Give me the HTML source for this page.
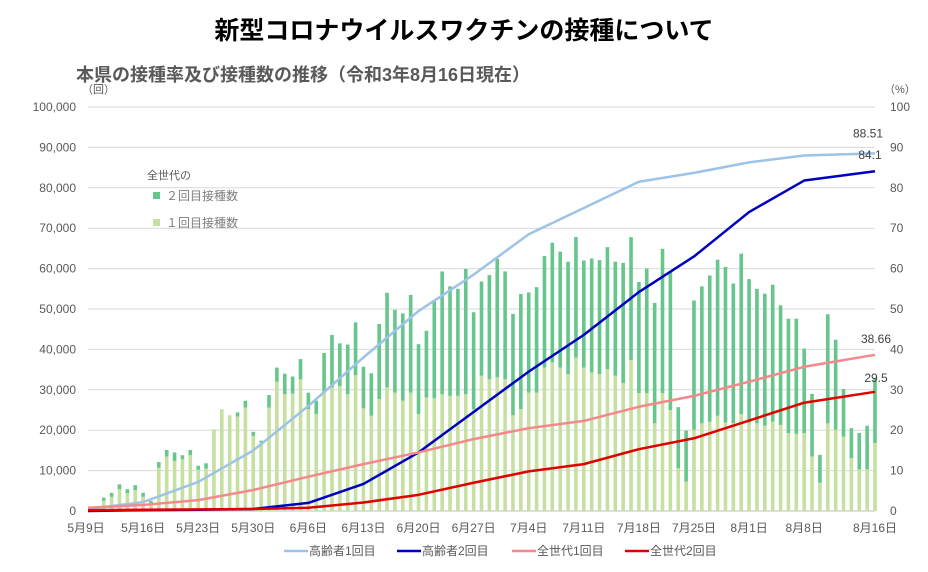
<!DOCTYPE html>
<html><head><meta charset="utf-8"><style>
body{margin:0;background:#fff;}
svg text{font-family:"Liberation Sans","Noto Sans CJK JP",sans-serif;}
</style></head><body>
<svg id="c" width="928" height="567" xmlns="http://www.w3.org/2000/svg">
<text x="464" y="39" text-anchor="middle" font-size="25" font-weight="bold" fill="#000">新型コロナウイルスワクチンの接種について</text>
<text x="76" y="81" font-size="18" font-weight="bold" fill="#595959">本県の接種率及び接種数の推移（令和3年8月16日現在）</text>
<text x="82" y="93" font-size="11" fill="#595959">（回）</text>
<text x="884" y="93" font-size="11" fill="#595959">（%）</text>
<g id="grid"></g><g id="bars"></g><g id="lines"></g><g id="axes"></g>
<text x="147" y="179" font-size="11" fill="#595959">全世代の</text>
<rect x="153" y="192" width="7" height="7" fill="#66c68c"/>
<text x="166" y="200" font-size="12" fill="#808080">２回目接種数</text>
<rect x="153" y="219" width="7" height="7" fill="#c5e0a0"/>
<text x="166" y="227" font-size="12" fill="#808080">１回目接種数</text>
<g id="legend"></g>
</svg>
<script>
const barDays=[2,3,4,5,6,7,8,9,10,11,12,13,14,15,16,17,18,19,20,21,22,23,24,25,26,27,28,29,30,31,32,33,34,35,36,37,38,39,40,41,42,43,44,45,46,47,48,49,50,51,52,53,54,55,56,57,58,59,60,61,62,63,64,65,66,67,68,69,70,71,72,73,74,75,76,77,78,79,80,81,82,83,84,85,86,87,88,89,90,91,92,93,94,95,96,97,98,99,100];
const firstDose=[2500,3500,5400,4400,5200,3500,2000,10700,13500,12400,12800,13800,10200,10500,20200,25200,23700,23400,25600,18600,17000,25600,32000,28900,29100,32600,25200,24000,29300,30600,30900,28900,33600,25400,23600,27700,30600,29300,27300,29300,24000,28100,27900,28900,28500,28500,28900,25200,33500,32600,33100,32600,23700,25200,29300,29300,35500,36800,35500,33900,38000,35500,34300,33900,35100,33500,31700,37400,29200,29200,21700,29200,25000,10600,7300,20100,21700,22100,23600,21900,21700,24000,21900,21700,21100,22100,21300,19300,19100,19300,13500,7000,21700,20100,18400,13100,10300,10300,16800];
const totalDose=[3300,4500,6600,5400,6400,4500,2500,12100,15100,14500,13800,15100,11200,11800,20200,25200,23700,24400,27300,19600,17400,28700,35500,34000,33300,37600,29300,27300,39100,43600,41500,41200,46700,35700,34100,46300,54000,49800,48900,53500,41300,44600,52100,59300,55600,55000,59900,49200,56800,58400,62400,59300,48800,53700,54100,55400,63100,66400,64200,61700,67800,62000,62500,62100,65300,61700,61400,67800,56700,60000,51500,64900,59300,25700,19900,52100,55600,58300,62200,60400,56300,63700,57400,55000,53800,56000,50900,47600,47600,40200,29000,13900,48700,42400,30200,20500,19300,21100,32900];
const lineDays=[0,7,14,21,28,35,42,49,56,63,70,77,84,91,100];
const elderly1=[0.5,2.2,7.2,15,26,38,49.5,58.5,68.5,75,81.5,83.7,86.3,88,88.51];
const elderly2=[0,0.2,0.3,0.5,2,6.7,14.5,24.5,34.5,43.6,54.2,63,74,81.8,84.1];
const all1=[0.8,1.5,2.7,5.2,8.5,11.6,14.5,17.8,20.5,22.3,25.8,28.5,32,35.7,38.66];
const all2=[0.2,0.3,0.4,0.5,0.8,2.1,4,7,9.8,11.6,15.3,18,22.4,26.8,29.5];
const leftTicks=[0,10000,20000,30000,40000,50000,60000,70000,80000,90000,100000];
const rightTicks=[0,10,20,30,40,50,60,70,80,90,100];
const dateTickDays=[0,7,14,21,28,35,42,49,56,63,70,77,84,91,100];
const dateLabels=["5月9日","5月16日","5月23日","5月30日","6月6日","6月13日","6月20日","6月27日","7月4日","7月11日","7月18日","7月25日","8月1日","8月8日","8月16日"];
const endLabels=["88.51","84.1","38.66","29.5"];

const NS="http://www.w3.org/2000/svg";
const X0=88,DX=7.87,Y0=511,H=404;
const x=d=>X0+d*DX;
const yL=v=>Y0-v/100000*H;
const yR=v=>Y0-v/100*H;
function mk(tag,attrs,parent,text){const e=document.createElementNS(NS,tag);for(const k in attrs)e.setAttribute(k,attrs[k]);if(text!==undefined)e.textContent=text;document.getElementById(parent).appendChild(e);return e;}

leftTicks.forEach((t,i)=>{
  const g=mk('line',{x1:X0,x2:875,y1:yL(t),y2:yL(t),stroke:i==0?'#bfbfbf':'#d9d9d9','stroke-width':1},'grid');
  
  
  const l=mk('text',{x:76,y:yL(t)+4,'text-anchor':'end','font-size':12,fill:'#595959'},'axes',t.toLocaleString('en-US'));
  
  
});
rightTicks.forEach(t=>{
  const l=mk('text',{x:890,y:yR(t)+4,'font-size':12,fill:'#595959'},'axes',String(t));
  
  
});
dateTickDays.forEach((d,i)=>{
  const l=mk('text',{x:x(d)-(i==0?2:0),y:532,'text-anchor':'middle','font-size':12,fill:'#595959'},'axes',dateLabels[i]);
  
  
});
barDays.forEach((d,i)=>{
  const bw=3.6;
  const b1=mk('rect',{x:x(d)-bw/2,y:yL(firstDose[i]),width:bw,height:Y0-yL(firstDose[i]),fill:'#c5e0a0'},'bars');
  
  
  const b2=mk('rect',{x:x(d)-bw/2,y:yL(totalDose[i]),width:bw,height:yL(firstDose[i])-yL(totalDose[i]),fill:'#66c68c'},'bars');
  
  
});
const series=[[elderly1,'#9dc3e6','line-elderly-first',2.5],[elderly2,'#0000c0','line-elderly-second',2.5],[all1,'#f4888a','line-all-first',2.5],[all2,'#e00000','line-all-second',2.5]];
series.forEach(([vals,col,name,w])=>{
  const p=mk('polyline',{points:vals.map((v,i)=>x(lineDays[i])+','+yR(v)).join(' '),fill:'none',stroke:col,'stroke-width':w,'stroke-linejoin':'round'},'lines');
  
  
});
const endVals=[elderly1[14],elderly2[14],all1[14],all2[14]];
const endOff=[[868,-16],[870,-12],[876,-12],[876,-10]];
endVals.forEach((v,i)=>{
  const t=mk('text',{x:endOff[i][0],y:yR(v)+endOff[i][1],'text-anchor':'middle','font-size':12,fill:'#404040'},'lines',endLabels[i]);
  
  
});
const leg=[['高齢者1回目','#9dc3e6',284],['高齢者2回目','#0000c0',397],['全世代1回目','#f4888a',512],['全世代2回目','#e00000',625]];
leg.forEach(([lab,col,lx])=>{
  const s=mk('line',{x1:lx,x2:lx+24,y1:551,y2:551,stroke:col,'stroke-width':2.5},'legend');
  
  
  const t=mk('text',{x:lx+25,y:555,'font-size':12,fill:'#595959'},'legend',lab);
  
  
});
</script>
</body></html>
